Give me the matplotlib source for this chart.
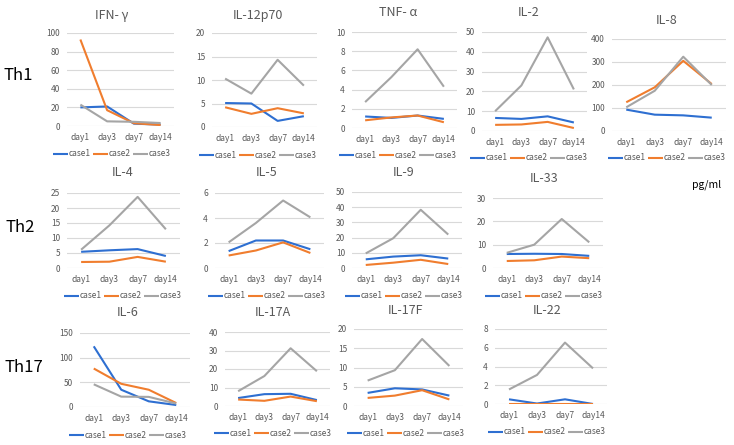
import matplotlib
matplotlib.use("Agg")
import matplotlib.pyplot as plt

plt.rcParams['font.family'] = ['Noto Sans CJK JP', 'DejaVu Sans']

days = ["day1", "day3", "day7", "day14"]
series_names = ["case1", "case2", "case3"]

# ---- data (pg/ml) ----
ifng_case1 = [20, 21, 2.5, 1.5]
ifng_case2 = [93, 17, 3, 1]
ifng_case3 = [23, 5, 4.5, 3.2]

il12_case1 = [5.1, 5.0, 1.3, 2.3]
il12_case2 = [4.2, 2.8, 4.0, 2.9]
il12_case3 = [10.3, 7.1, 14.3, 8.8]

tnfa_case1 = [1.2, 1.05, 1.3, 0.95]
tnfa_case2 = [0.8, 1.1, 1.3, 0.6]
tnfa_case3 = [2.7, 5.3, 8.2, 4.3]

il2_case1 = [6.6, 6.1, 7.4, 4.3]
il2_case2 = [3.1, 3.3, 4.6, 1.5]
il2_case3 = [10, 23, 47.3, 21]

il8_case1 = [93, 71, 68, 58]
il8_case2 = [125, 190, 305, 204]
il8_case3 = [103, 175, 323, 200]

il4_case1 = [5.4, 5.9, 6.3, 4.0]
il4_case2 = [2.0, 2.1, 3.7, 2.1]
il4_case3 = [6.1, 14.2, 23.7, 12.9]

il5_case1 = [1.35, 2.2, 2.2, 1.5]
il5_case2 = [1.0, 1.4, 2.05, 1.2]
il5_case3 = [2.05, 3.6, 5.4, 4.05]

il9_case1 = [5.7, 7.5, 8.4, 6.2]
il9_case2 = [2.0, 3.5, 5.4, 2.6]
il9_case3 = [9.6, 19.6, 38.3, 22]

il33_case1 = [6.0, 6.1, 6.0, 5.2]
il33_case2 = [3.0, 3.3, 4.9, 4.2]
il33_case3 = [6.5, 10, 21, 11]

il6_case1 = [123, 35, 11.5, 4]
il6_case2 = [78, 47, 35, 8]
il6_case3 = [46, 21, 20.5, 7]

il17a_case1 = [4.3, 6.4, 6.6, 3.2]
il17a_case2 = [3.5, 2.8, 5.1, 2.6]
il17a_case3 = [8, 16.2, 31.2, 18.8]

il17f_case1 = [3.4, 4.6, 4.3, 2.7]
il17f_case2 = [2.1, 2.7, 4.1, 1.7]
il17f_case3 = [6.6, 9.3, 17.4, 10.4]

il22_case1 = [0.5, 0.05, 0.5, 0.0]
il22_case2 = [0.02, 0.02, 0.02, 0.02]
il22_case3 = [1.55, 3.1, 6.55, 3.8]

titles = ["IFN- γ", "IL-12p70", "TNF- α", "IL-2", "IL-8",
          "IL-4", "IL-5", "IL-9", "IL-33",
          "IL-6", "IL-17A", "IL-17F", "IL-22"]
values = [
    (ifng_case1, ifng_case2, ifng_case3),
    (il12_case1, il12_case2, il12_case3),
    (tnfa_case1, tnfa_case2, tnfa_case3),
    (il2_case1, il2_case2, il2_case3),
    (il8_case1, il8_case2, il8_case3),
    (il4_case1, il4_case2, il4_case3),
    (il5_case1, il5_case2, il5_case3),
    (il9_case1, il9_case2, il9_case3),
    (il33_case1, il33_case2, il33_case3),
    (il6_case1, il6_case2, il6_case3),
    (il17a_case1, il17a_case2, il17a_case3),
    (il17f_case1, il17f_case2, il17f_case3),
    (il22_case1, il22_case2, il22_case3),
]
y_max = [100, 20, 10, 50, 400, 25, 6, 50, 30, 150, 40, 20, 8]
y_step = [20, 5, 2, 10, 100, 5, 2, 10, 10, 50, 10, 5, 2]
row_labels = ["Th1", "Th2", "Th17"]

# ---- layout (pixels) ----
W, H = 734, 445
# x0, x1, y_top, y_bottom, title_x, title_y, legend_y
boxes = [
    (67, 174, 33, 126, 112, 15, 154),
    (212, 317, 33, 127, 258, 15, 155),
    (352, 457, 32, 128, 398, 13, 155),
    (482, 587, 32, 131, 529, 12, 158),
    (612, 726, 39, 131, 667, 20, 158),
    (67, 180, 193, 268, 123, 173, 296),
    (215, 324, 193, 268, 267, 173, 296),
    (352, 462, 192, 268, 404, 172, 296),
    (493, 603, 198, 268, 544, 178, 296),
    (80, 190, 333, 407, 128, 313, 435),
    (225, 330, 332, 406, 273, 312, 433),
    (354, 463, 329, 406, 406, 310, 433),
    (495, 607, 329, 404, 547, 310, 432),
]
row_pos = [(18, 76), (20, 227), (24, 368)]

colors = ['#2E6FD1', '#F07D2E', '#A5A5A5']
grid_c = '#D9D9D9'
text_c = '#595959'

fig = plt.figure(figsize=(W / 100, H / 100), dpi=100)

for i, (t, vals) in enumerate(zip(titles, values)):
    x0, x1, yt, yb, tx, ty, ly = boxes[i]
    ax = fig.add_axes([x0 / W, 1 - yb / H, (x1 - x0) / W, (yb - yt) / H])
    for v, c, n in zip(vals, colors, series_names):
        ax.plot(range(len(days)), v, color=c, lw=1.5, label=n, solid_capstyle='butt')
    ax.set_xlim(-0.5, len(days) - 0.5)
    ax.set_ylim(0, y_max[i])
    ax.set_yticks(list(range(0, y_max[i] + 1, y_step[i])))
    ax.set_xticks(range(len(days)))
    ax.set_xticklabels(days)
    ax.yaxis.grid(True, color=grid_c, lw=0.8)
    ax.set_axisbelow(True)
    for s in ax.spines.values():
        s.set_visible(False)
    ax.tick_params(length=0, labelsize=6, colors=text_c, pad=5)
    fig.text(tx / W, 1 - ty / H, t, ha='center', va='center', fontsize=9, color=text_c)
    fig.legend(*ax.get_legend_handles_labels(), loc='center',
               bbox_to_anchor=(tx / W, 1 - ly / H), ncol=3, frameon=False,
               fontsize=6, handlelength=1.8, handletextpad=0.1, columnspacing=0.25,
               labelcolor=text_c, borderpad=0, borderaxespad=0)

for lab, (rx, ry) in zip(row_labels, row_pos):
    fig.text(rx / W, 1 - ry / H, lab, ha='center', va='center', fontsize=12, color='black')

fig.text(707 / W, 1 - 185 / H, "pg/ml", ha='center', va='center', fontsize=7.5, color='black')

fig.savefig("out.png", dpi=100)
